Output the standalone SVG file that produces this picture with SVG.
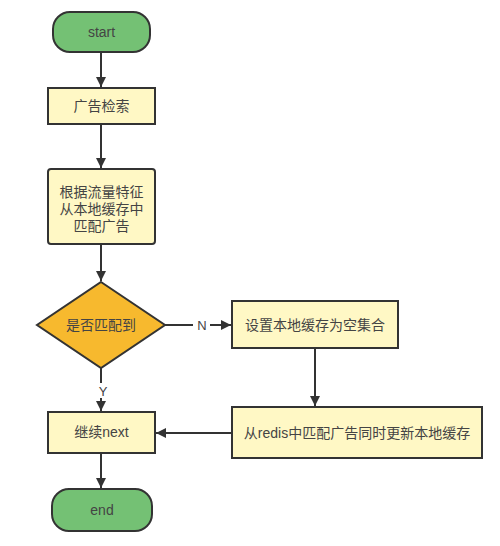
<svg xmlns="http://www.w3.org/2000/svg" width="500" height="546" viewBox="0 0 500 546">
<defs>
<style>
.term{fill:#74c174;stroke:#333;stroke-width:2}
.box{fill:#fff8c5;stroke:#333;stroke-width:2}
.dia{fill:#f7b92e;stroke:#333;stroke-width:2}
.t{font-family:"Liberation Sans","Noto Sans CJK SC",sans-serif;font-size:14px;fill:#444;text-anchor:middle}
.c{fill:none;stroke:#333;stroke-width:2}
.lbl{font-family:"Liberation Sans","Noto Sans CJK SC",sans-serif;font-size:13px;fill:#444;text-anchor:middle}
</style>
<marker id="ah" viewBox="0 0 10 10" refX="10" refY="5" markerWidth="5" markerHeight="5" orient="auto" markerUnits="strokeWidth">
<path d="M0,0 L10,5 L0,10 z" fill="#333"/>
</marker>
</defs>
<rect width="500" height="546" fill="#fff"/>
<g id="connectors">
<line class="c" x1="101" y1="52" x2="101" y2="87" marker-end="url(#ah)"/>
<line class="c" x1="101" y1="124" x2="101" y2="168" marker-end="url(#ah)"/>
<line class="c" x1="101" y1="244" x2="101" y2="281" marker-end="url(#ah)"/>
<line class="c" x1="165" y1="325" x2="193" y2="325"/>
<line class="c" x1="210" y1="325" x2="231" y2="325" marker-end="url(#ah)"/>
<text class="lbl" x="202" y="330">N</text>
<line class="c" x1="101" y1="368" x2="101" y2="383"/>
<line class="c" x1="101" y1="398" x2="101" y2="411" marker-end="url(#ah)"/>
<text class="lbl" x="103" y="396">Y</text>
<line class="c" x1="315" y1="348" x2="315" y2="406" marker-end="url(#ah)"/>
<line class="c" x1="232" y1="433" x2="156" y2="433" marker-end="url(#ah)"/>
<line class="c" x1="101" y1="453" x2="101" y2="488" marker-end="url(#ah)"/>
</g>
<g id="start">
<rect class="term" x="53" y="12" width="97" height="40" rx="17"/>
<text class="t" x="101.5" y="37">start</text>
</g>
<g id="search">
<rect class="box" x="48" y="88" width="107" height="36"/>
<text class="t" x="101.5" y="111">广告检索</text>
</g>
<g id="match-local">
<rect class="box" x="48" y="169" width="107" height="75" rx="3"/>
<text class="t" x="101.5" y="197">根据流量特征</text>
<text class="t" x="101.5" y="214">从本地缓存中</text>
<text class="t" x="101.5" y="231">匹配广告</text>
</g>
<g id="decision">
<polygon class="dia" points="101,282 165,325 101,368 37,325"/>
<text class="t" x="101" y="330">是否匹配到</text>
</g>
<g id="set-empty">
<rect class="box" x="232" y="301" width="166" height="47"/>
<text class="t" x="315" y="330">设置本地缓存为空集合</text>
</g>
<g id="redis">
<rect class="box" x="232" y="407" width="250" height="51"/>
<text class="t" x="357" y="438">从redis中匹配广告同时更新本地缓存</text>
</g>
<g id="next">
<rect class="box" x="48" y="412" width="107" height="41"/>
<text class="t" x="101.5" y="437">继续next</text>
</g>
<g id="end">
<rect class="term" x="52" y="489" width="100" height="42" rx="17"/>
<text class="t" x="102" y="515">end</text>
</g>
</svg>
